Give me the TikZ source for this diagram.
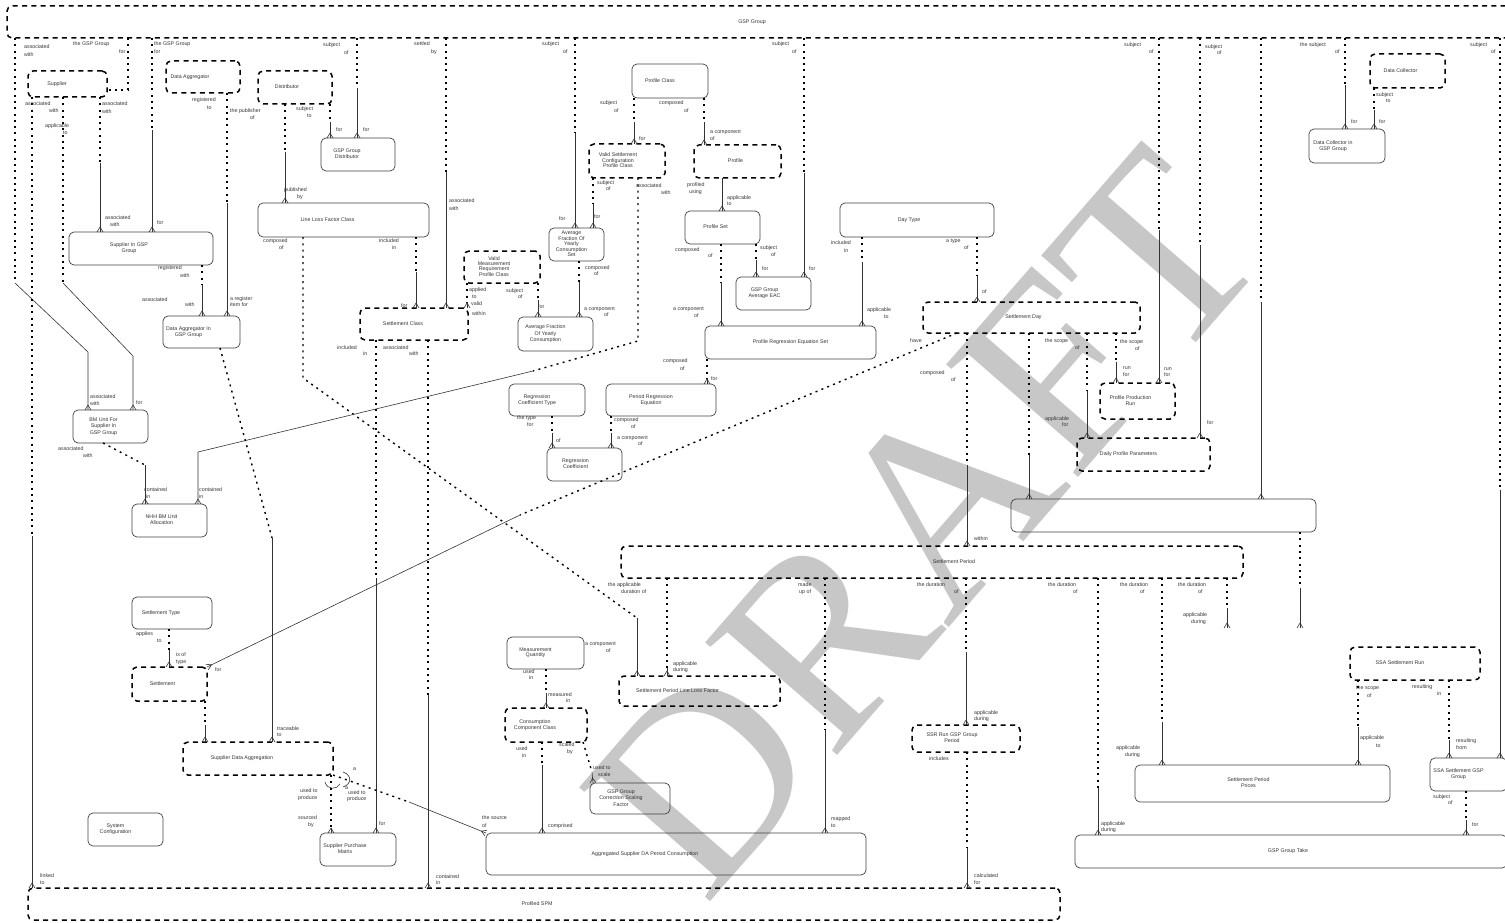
\documentclass[tikz,border=0pt]{standalone}
\usepackage{fontspec}
\setmainfont{Liberation Sans}
\newfontfamily\wmfont{Liberation Serif}
\usetikzlibrary{decorations.markings}
\newcommand\bfont{\fontsize{5.3}{6.3}\selectfont}
\newcommand\tb[2]{\begin{tabular}{@{}c@{}}#2\end{tabular}\hspace*{#1pt}}
\newcommand\tbt[2]{{\def\arraystretch{0.82}\begin{tabular}{@{}c@{}}#2\end{tabular}}\hspace*{#1pt}}
\newcount\labn
\newcommand\lab[3]{\global\advance\labn by 1\relax\node[lbl] (lab\the\labn) at (#1,#2) {#3};}
\newcommand\ent[6]{\node[#1,anchor=north west,minimum width={(#4-#2)*1pt},minimum height={(#5-#3)*1pt}] (#6) at (#2,#3)}
\newcommand\vrel[4]{\draw[rd] (#1.south-|#3,0) -- (#3,#4); \draw[rs,crow] (#3,#4) -- (#2.north-|#3,0);}
\begin{document}
\begin{tikzpicture}[x=1pt,y=-1pt,
  sbox/.style={draw=black!75,line width=0.7pt,rounded corners=5pt,inner sep=0pt,outer sep=0pt,font=\bfont,text=black!80},
  dbox/.style={draw=black,line width=1.5pt,dash pattern=on 5pt off 4.3pt,rounded corners=5pt,inner sep=0pt,outer sep=0pt,font=\bfont,text=black!80},
  rd/.style={line width=1.4pt,dash pattern=on 2pt off 4.3pt},
  rs/.style={line width=0.6pt,draw=black!80},
  crow/.style={postaction={decorate,decoration={markings,mark=at position 1 with {\draw[solid,line width=0.6pt,black!80] (-5pt,0pt) -- (0pt,3pt) (-5pt,0pt) -- (0pt,-3pt);}}}},
  lbl/.style={anchor=west,inner sep=0pt,font=\bfont,text=black!80},
  wmark/.style={rotate=49,text=black!22,font=\wmfont\fontsize{265}{265}\selectfont,inner sep=0pt}]
\useasboundingbox (0,0) rectangle (1505,923);
\node[wmark] (wm) at (925,522) {DRAFT};
% entities
\ent{dbox}{7}{6}{1520}{38}{gsp} {\tb{23}{GSP Group}};
\ent{dbox}{28}{71}{107}{97}{sup} {\tb{21}{Supplier}};
\ent{dbox}{166}{61}{240}{93}{da} {\tb{26}{Data Aggregator}};
\ent{dbox}{258}{71}{332}{104}{dist} {\tb{16}{Distributor}};
\ent{sbox}{321}{138}{395}{171}{ggd} {\tb{22}{GSP Group\\Distributor}};
\ent{sbox}{258}{203}{429}{237}{llfc} {\tb{32}{Line Loss Factor Class}};
\ent{sbox}{69}{232}{213}{265}{sigg} {\tb{24}{Supplier In GSP\\Group}};
\ent{sbox}{163}{316}{240}{348}{dagg} {\tb{26}{Data Aggregator In\\GSP Group}};
\ent{dbox}{360}{308}{468}{340}{sc} {\tb{22}{Settlement Class}};
\ent{sbox}{73}{410}{148}{443}{bmu} {\tb{14}{BM Unit For\\Supplier In\\GSP Group}};
\ent{sbox}{132}{504}{207}{537}{nhh} {\tb{16}{NHH BM Unit\\Allocation}};
\ent{sbox}{132}{597}{212}{629}{st} {\tb{22}{Settlement Type}};
\ent{dbox}{132}{667}{207}{701}{set} {\tb{14}{Settlement}};
\ent{dbox}{183}{742}{333}{775}{sda} {\tb{32}{Supplier Data Aggregation}};
\ent{sbox}{88}{813}{163}{846}{syscfg} {\tb{20}{System\\Configuration}};
\ent{sbox}{320}{833}{396}{866}{spm} {\tb{26}{Supplier Purchase\\Matrix}};
\ent{dbox}{28}{888}{1060}{920}{pspm} {\tb{14}{Profiled SPM}};
\ent{sbox}{632}{64}{708}{98}{pc} {\tb{20}{Profile Class}};
\ent{dbox}{589}{144}{665}{178}{vscpc} {\tbt{18}{Valid Settlement\\Configuration\\Profile Class}};
\ent{dbox}{694}{145}{781}{178}{prof} {\tb{4}{Profile}};
\ent{sbox}{549}{228}{604}{261}{afycs} {\tbt{10}{Average\\Fraction Of\\Yearly\\Consumption\\Set}};
\ent{sbox}{685}{211}{760}{244}{pset} {\tb{14}{Profile Set}};
\ent{dbox}{464}{251}{540}{283}{vmrpc} {\tbt{16}{Valid\\Measurement\\Requirement\\Profile Class}};
\ent{sbox}{518}{317}{593}{351}{afyc} {\tb{20}{Average Fraction\\Of Yearly\\Consumption}};
\ent{sbox}{736}{277}{811}{310}{gae} {\tb{18}{GSP Group\\Average EAC}};
\ent{sbox}{840}{203}{994}{237}{dt} {\tb{16}{Day Type}};
\ent{sbox}{705}{326}{876}{359}{pres} {\tb{0}{Profile Regression Equation Set}};
\ent{sbox}{606}{384}{716}{416}{pre} {\tb{20}{Period Regression\\Equation}};
\ent{sbox}{509}{384}{585}{416}{rct} {\tb{20}{Regression\\Coefficient Type}};
\ent{sbox}{547}{448}{622}{481}{rc} {\tbt{18}{Regression\\Coefficient}};
\ent{dbox}{923}{302}{1140}{333}{sd} {\tb{16}{Settlement Day}};
\ent{dbox}{1100}{383}{1175}{419}{ppr} {\tb{14}{Profile Production\\Run}};
\ent{dbox}{1077}{438}{1210}{471}{dpp} {\tb{30}{Daily Profile Parameters}};
\ent{dbox}{1370}{54}{1445}{88}{dc} {\tb{14}{Data Collector}};
\ent{sbox}{1309}{129}{1385}{163}{dcgg} {\tb{28}{Data Collector in\\GSP Group}};
\ent{sbox}{1011}{499}{1316}{532}{emp} {};
\ent{dbox}{621}{546}{1243}{578}{sp} {\tb{-44}{Settlement Period}};
\ent{dbox}{619}{676}{780}{706}{spllf} {\tb{44}{Settlement Period Line Loss Factor}};
\ent{sbox}{507}{637}{584}{669}{mq} {\tbt{20}{Measurement\\Quantity}};
\ent{dbox}{505}{708}{587}{742}{ccc} {\tb{22}{Consumption\\Component Class}};
\ent{sbox}{590}{783}{670}{814}{gcsf} {\tb{18}{GSP Group\\Correction Scaling\\Factor}};
\ent{sbox}{486}{833}{866}{875}{asd} {\tb{62}{Aggregated Supplier DA Period Consumption}};
\ent{dbox}{912}{725}{1020}{752}{ssr} {\tb{28}{SSR Run GSP Group\\Period}};
\ent{sbox}{1135}{765}{1390}{802}{spp} {\tb{28}{Settlement Period\\Prices}};
\ent{dbox}{1350}{647}{1480}{680}{ssar} {\tb{30}{SSA Settlement Run}};
\ent{sbox}{1430}{758}{1507}{791}{ssag} {\tb{20}{SSA Settlement GSP\\Group}};
\ent{sbox}{1075}{835}{1507}{868}{ggt} {\tb{6}{GSP Group Take}};
% relationships
\draw[rd] (gsp.south-|15,0) -- (15,283);
\draw[rs,crow] (15,283) -- (88,352) -- (bmu.north-|88,0);
\draw[rd] (gsp.south-|128,0) -- (128,90) -- (sup.east|-128,90);
\vrel{gsp}{sigg}{152}{130}
\vrel{gsp}{ggd}{357}{88}
\vrel{gsp}{sc}{446}{172}
\vrel{gsp}{afycs}{575}{133}
\vrel{gsp}{gae}{804}{173}
\vrel{gsp}{ppr}{1159}{230}
\vrel{gsp}{dpp}{1200}{245}
\vrel{gsp}{emp}{1261}{302}
\vrel{gsp}{dcgg}{1345}{85}
\vrel{gsp}{ssag}{1500}{490}
\draw[rd] (sup.south-|32,0) -- (32,536);
\draw[rs,crow] (32,536) -- (pspm.north-|32,0);
\draw[rd] (sup.south-|63,0) -- (63,283);
\draw[rs,crow] (63,283) -- (133,356) -- (bmu.north-|133,0);
\vrel{sup}{sigg}{100}{163}
\vrel{da}{dagg}{227}{203}
\vrel{sigg}{dagg}{202}{285}
\vrel{dist}{llfc}{285}{152}
\vrel{dist}{ggd}{330}{122}
\vrel{llfc}{sc}{416}{272}
\draw[rd] (llfc.south-|303,0) -- (303,378) -- (637,618);
\draw[rs,crow] (637,618) -- (spllf.north-|637,0);
\vrel{vmrpc}{sc}{467}{302}
\vrel{vmrpc}{afyc}{538}{300}
\vrel{sc}{pspm}{428}{695}
\vrel{sc}{spm}{376}{578}
\draw[rd] (bmu.south-|103,0) -- (145,465);
\draw[rs,crow] (145,465) -- (nhh.north-|145,0);
\draw[rd] (vscpc.south-|638,0) -- (638,341) -- (533,371);
\draw[rs,crow] (533,371) -- (198,452) -- (nhh.north-|198,0);
\vrel{pc}{vscpc}{634}{122}
\vrel{pc}{prof}{704}{122}
\vrel{vscpc}{afycs}{593}{204}
\vrel{afycs}{afyc}{579}{282}
\draw[rs,crow] (prof.south-|722,0) -- (pset.north-|722,0);
\vrel{pset}{pres}{721}{282}
\vrel{pset}{gae}{756}{260}
\vrel{dt}{pres}{862}{262}
\vrel{dt}{sd}{977}{276}
\vrel{pres}{pre}{707}{378}
\vrel{pre}{rc}{611}{433}
\vrel{rct}{rc}{552}{433}
\vrel{sd}{sp}{967}{465}
\vrel{sd}{emp}{1029}{455}
\vrel{sd}{dpp}{1087}{391}
\vrel{sd}{ppr}{1116}{362}
\vrel{dc}{dcgg}{1374}{110}
\draw[rd] (sd.south-|957,0) -- (520,515);
\draw[rs,crow] (520,515) -- (set.north east);
\coordinate (dng1) at (1300,628);
\coordinate (dng2) at (1227,628);
\draw[rd] (emp.south-|1300,0) -- (1300,588);
\draw[rs,crow] (1300,588) -- (dng1);
\draw[rd] (sp.south-|1227,0) -- (1227,608);
\draw[rs,crow] (1227,608) -- (dng2);
\vrel{sp}{spllf}{667}{668}
\vrel{sp}{asd}{825}{730}
\vrel{sp}{ssr}{966}{652}
\vrel{sp}{ggt}{1098}{788}
\vrel{sp}{spp}{1162}{722}
\vrel{mq}{ccc}{546}{693}
\vrel{ccc}{asd}{542}{765}
\draw[rd] (ccc.south-|583,0) -- (592,772);
\draw[rs,crow] (592,772) -- (gcsf.north-|593,0);
\vrel{ssr}{pspm}{967}{848}
\vrel{ssar}{spp}{1358}{727}
\vrel{ssar}{ssag}{1449}{740}
\vrel{ssag}{ggt}{1466}{820}
\vrel{st}{set}{169}{650}
\vrel{set}{sda}{205}{725}
\draw[rd] (dagg.south-|220,0) -- (272,538);
\draw[rs,crow] (272,538) -- (sda.north-|272,0);
\vrel{sda}{spm}{331}{828}
\draw[rd] (sda.south east) -- (409,802);
\draw[rs,crow] (409,802) -- (asd.north west);
\draw[rs] (343,772) .. controls (352,775) and (352,784) .. (343,787);
\draw[rs] (325,782) .. controls (327,790) and (337,790) .. (340,784);
% labels
\lab{24}{47}{associated}\lab{24}{55}{with}
\lab{73}{44}{the GSP Group}\lab{119}{52}{for}
\lab{154}{44}{the GSP Group}\lab{154}{52}{for}
\lab{323}{45}{subject}\lab{344}{53}{of}
\lab{414}{44}{settled}\lab{431}{52}{by}
\lab{542}{44}{subject}\lab{563}{52}{of}
\lab{772}{44}{subject}\lab{792}{52}{of}
\lab{1124}{45}{subject}\lab{1149}{52}{of}
\lab{1205}{47}{subject}\lab{1217}{53}{of}
\lab{1300}{45}{the subject}\lab{1335}{52}{of}
\lab{1470}{45}{subject}\lab{1491}{52}{of}
\lab{25}{104}{associated}\lab{49}{111}{with}
\lab{45}{126}{applicable}\lab{63}{133}{to}
\lab{102}{104}{associated}\lab{102}{112}{with}
\lab{192}{100}{registered}\lab{207}{108}{to}
\lab{230}{111}{the publisher}\lab{250}{118}{of}
\lab{296}{109}{subject}\lab{307}{116}{to}
\lab{336}{130}{for}\lab{363}{130}{for}
\lab{284}{190}{published}\lab{297}{197}{by}
\lab{105}{218}{associated}\lab{110}{225}{with}
\lab{157}{223}{for}
\lab{158}{268}{registered}\lab{180}{276}{with}
\lab{263}{241}{composed}\lab{279}{248}{of}
\lab{142}{300}{associated}\lab{185}{305}{with}
\lab{230}{299}{a register}\lab{230}{305}{item for}
\lab{379}{241}{included}\lab{392}{248}{in}
\lab{449}{201}{associated}\lab{449}{209}{with}
\lab{401}{306}{for}
\lab{337}{348}{included}\lab{363}{354}{in}
\lab{383}{348}{associated}\lab{409}{354}{with}
\lab{90}{397}{associated}\lab{90}{404}{with}
\lab{136}{403}{for}
\lab{58}{449}{associated}\lab{83}{456}{with}
\lab{144}{490}{contained}\lab{146}{497}{in}
\lab{199}{490}{contained}\lab{199}{497}{in}
\lab{600}{103}{subject}\lab{614}{111}{of}
\lab{659}{103}{composed}\lab{684}{111}{of}
\lab{639}{139}{for}
\lab{710}{132}{a component}\lab{710}{139}{of}
\lab{597}{183}{subject}\lab{606}{189}{of}
\lab{636}{186}{associated}\lab{661}{193}{with}
\lab{687}{185}{profiled}\lab{689}{192}{using}
\lab{727}{198}{applicable}\lab{727}{204}{to}
\lab{559}{219}{for}\lab{594}{217}{for}
\lab{585}{268}{composed}\lab{594}{274}{of}
\lab{675}{250}{composed}\lab{708}{256}{of}
\lab{469}{290}{applied}\lab{472}{297}{to}\lab{471}{304}{valid}\lab{472}{314}{within}
\lab{506}{291}{subject}\lab{518}{297}{of}
\lab{538}{307}{for}
\lab{584}{309}{a component}\lab{604}{315}{of}
\lab{673}{309}{a component}\lab{694}{316}{of}
\lab{760}{248}{subject}\lab{771}{255}{of}
\lab{762}{269}{for}\lab{809}{269}{for}
\lab{831}{243}{included}\lab{844}{251}{in}
\lab{946}{241}{a type}\lab{964}{248}{of}
\lab{982}{292}{of}
\lab{867}{310}{applicable}\lab{884}{317}{to}
\lab{663}{361}{composed}\lab{680}{369}{of}
\lab{711}{379}{for}
\lab{517}{418}{the type}\lab{527}{425}{for}
\lab{614}{420}{composed}\lab{631}{427}{of}
\lab{617}{438}{a component}\lab{638}{444}{of}
\lab{556}{441}{of}
\lab{910}{341}{have}
\lab{920}{373}{composed}\lab{951}{380}{of}
\lab{1045}{341}{the scope}\lab{1075}{348}{of}
\lab{1120}{342}{the scope}\lab{1135}{349}{of}
\lab{1123}{368}{run}\lab{1123}{375}{for}
\lab{1164}{369}{run}\lab{1164}{375}{for}
\lab{1045}{419}{applicable}\lab{1062}{425}{for}
\lab{1207}{423}{for}
\lab{974}{539}{within}
\lab{608}{585}{the applicable}\lab{621}{592}{duration of}
\lab{798}{585}{made}\lab{799}{592}{up of}
\lab{917}{585}{the duration}\lab{954}{592}{of}
\lab{1048}{585}{the duration}\lab{1073}{592}{of}
\lab{1120}{585}{the duration}\lab{1140}{592}{of}
\lab{1178}{585}{the duration}\lab{1198}{592}{of}
\lab{1183}{615}{applicable}\lab{1191}{622}{during}
\lab{136}{634}{applies}\lab{157}{641}{to}
\lab{176}{655}{is of}\lab{176}{662}{type}
\lab{215}{670}{for}
\lab{277}{729}{traceable}\lab{277}{735}{to}
\lab{353}{769}{a}\lab{345}{788}{a}
\lab{300}{791}{used to}\lab{298}{798}{produce}
\lab{348}{793}{used to}\lab{347}{799}{produce}
\lab{298}{818}{sourced}\lab{308}{825}{by}
\lab{40}{876}{linked}\lab{40}{883}{to}
\lab{585}{644}{a component}\lab{606}{651}{of}
\lab{673}{664}{applicable}\lab{673}{670}{during}
\lab{523}{672}{used}\lab{529}{678}{in}
\lab{548}{695}{measured}\lab{566}{701}{in}
\lab{516}{749}{used}\lab{522}{756}{in}
\lab{559}{745}{scaled}\lab{567}{752}{by}
\lab{593}{768}{used to}\lab{598}{775}{scale}
\lab{482}{818}{the source}\lab{482}{826}{of}
\lab{548}{826}{comprised}
\lab{379}{824}{for}
\lab{436}{877}{contained}\lab{436}{883}{in}
\lab{974}{713}{applicable}\lab{974}{719}{during}
\lab{929}{759}{includes}
\lab{831}{819}{mapped}\lab{831}{826}{to}
\lab{974}{876}{calculated}\lab{974}{883}{for}
\lab{1101}{824}{applicable}\lab{1101}{830}{during}
\lab{1116}{748}{applicable}\lab{1125}{755}{during}
\lab{1356}{688}{the scope}\lab{1367}{696}{of}
\lab{1412}{687}{resulting}\lab{1437}{694}{in}
\lab{1360}{738}{applicable}\lab{1376}{746}{to}
\lab{1456}{741}{resulting}\lab{1456}{748}{from}
\lab{1433}{797}{subject}\lab{1448}{803}{of}
\lab{1472}{825}{for}
\lab{1351}{122}{for}\lab{1379}{122}{for}
\lab{1376}{95}{subject}\lab{1386}{101}{to}
\end{tikzpicture}
\end{document}
